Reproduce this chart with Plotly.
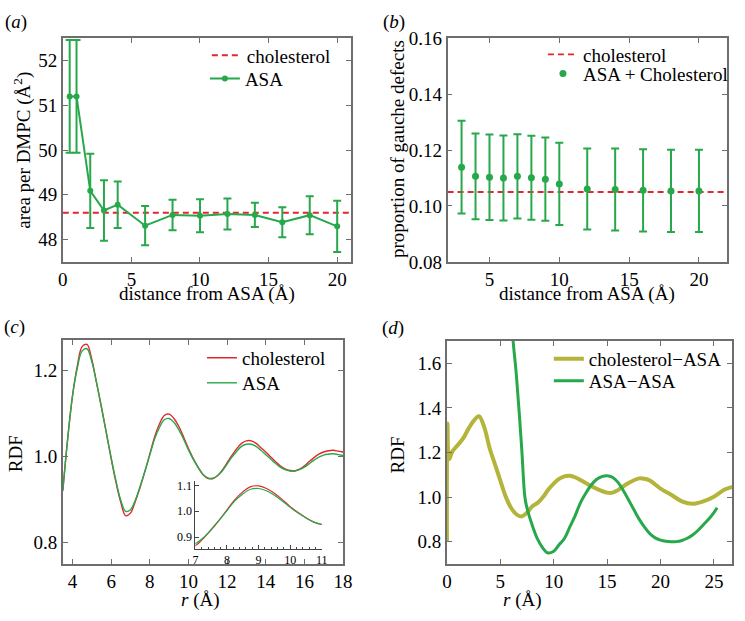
import plotly.graph_objects as go

W, H = 745, 621
FONT = "Liberation Serif, Times New Roman, DejaVu Serif, serif"
GREEN = "#27a84a"
RED = "#e3262c"
OLIVE = "#b4b43a"
FRAME = "#6e6e6e"

# ---------------- data ----------------
# (a) area per DMPC
a_x = [0.5, 1, 2, 3, 4, 6, 8, 10, 12, 14, 16, 18, 20]
a_y = [51.2, 51.2, 49.09, 48.65, 48.78, 48.31, 48.55, 48.53, 48.57, 48.55, 48.385, 48.545, 48.295]
a_err = [1.26, 1.26, 0.83, 0.675, 0.52, 0.44, 0.34, 0.37, 0.345, 0.27, 0.335, 0.425, 0.575]
a_chol = 48.6
a_xrange = [0, 21]

# (b) proportion of gauche defects
b_x = [3, 4, 5, 6, 7, 8, 9, 10, 12, 14, 16, 18, 20]
b_y = [0.1139, 0.1106, 0.1103, 0.1100, 0.1106, 0.1101, 0.1096, 0.1079, 0.1061, 0.1059, 0.1056, 0.1054, 0.1054]
b_err = [0.0166, 0.0153, 0.0153, 0.0152, 0.0151, 0.0150, 0.0149, 0.0147, 0.0145, 0.0147, 0.0147, 0.0147, 0.0147]
b_chol = 0.105
b_xrange = [2, 22]

# (c) RDF
c_r = [3.5, 3.75, 4.0, 4.25, 4.5, 4.75, 5.0, 5.25, 5.5, 5.75, 6.0, 6.25, 6.5, 6.75, 7.0, 7.25,
       7.5, 7.75, 8.0, 8.25, 8.5, 8.75, 9.0, 9.25, 9.5, 9.75, 10.0, 10.25, 10.5, 10.75, 11.0,
       11.25, 11.5, 11.75, 12.0, 12.25, 12.5, 12.75, 13.0, 13.25, 13.5, 13.75, 14.0, 14.25,
       14.5, 14.75, 15.0, 15.25, 15.5, 15.75, 16.0, 16.25, 16.5, 16.75, 17.0, 17.25, 17.5,
       17.75, 18.0]
c_chol = [0.92, 1.04, 1.14, 1.21, 1.255, 1.26, 1.225, 1.17, 1.115, 1.055, 0.995, 0.94, 0.893,
          0.862, 0.868, 0.895, 0.928, 0.965, 1.005, 1.045, 1.075, 1.095, 1.098, 1.088, 1.07,
          1.045, 1.018, 0.995, 0.975, 0.958, 0.949, 0.948, 0.955, 0.968, 0.985, 1.002, 1.018,
          1.03, 1.036, 1.036, 1.03, 1.02, 1.01, 0.999, 0.988, 0.978, 0.971, 0.967, 0.966, 0.97,
          0.978, 0.988, 0.997, 1.005, 1.01, 1.013, 1.014, 1.012, 1.01]
c_asa = [0.92, 1.04, 1.14, 1.205, 1.245, 1.25, 1.22, 1.17, 1.113, 1.055, 0.997, 0.943, 0.898,
         0.872, 0.876, 0.898, 0.93, 0.966, 1.003, 1.04, 1.067, 1.085, 1.088, 1.079, 1.062,
         1.04, 1.015, 0.993, 0.974, 0.958, 0.95, 0.949, 0.955, 0.966, 0.982, 0.998, 1.012,
         1.023, 1.028, 1.028, 1.023, 1.014, 1.004, 0.994, 0.984, 0.975, 0.969, 0.966, 0.966,
         0.969, 0.975, 0.983, 0.991, 0.998, 1.003, 1.005, 1.006, 1.004, 1.002]

# (d) RDF
d_r_chol = [0.0, 0.05, 0.2, 0.5, 1.0, 1.5, 2.0, 2.5, 3.0, 3.5, 4.0, 4.5, 5.0, 5.5, 6.0, 6.5,
            7.0, 7.5, 8.0, 8.5, 9.0, 9.5, 10.0, 10.5, 11.0, 11.5, 12.0, 13.0, 14.0, 15.0, 15.5,
            16.0, 17.0, 18.0, 18.5, 19.0, 20.0, 21.0, 22.0, 23.0, 24.0, 25.0, 26.0, 26.7]
d_chol = [0.8, 1.33, 1.17, 1.204, 1.233, 1.262, 1.305, 1.342, 1.363, 1.313, 1.219, 1.147,
          1.074, 1.003, 0.952, 0.923, 0.913, 0.93, 0.959, 0.974, 1.0, 1.034, 1.06, 1.082,
          1.093, 1.096, 1.089, 1.063, 1.038, 1.02, 1.02, 1.031, 1.063, 1.084, 1.082, 1.074,
          1.038, 1.01, 0.981, 0.97, 0.981, 1.002, 1.034, 1.046]
d_r_asa = [6.0, 6.2, 6.5, 7.0, 7.3, 7.5, 8.0, 8.5, 9.0, 9.4, 10.0, 10.5, 11.0, 11.5, 12.0,
           12.5, 13.0, 13.5, 14.0, 14.5, 15.0, 15.5, 16.0, 16.5, 17.0, 17.5, 18.0, 18.5,
           19.0, 19.5, 20.0, 20.5, 21.0, 21.5, 22.0, 22.5, 23.0, 23.5, 24.0, 24.5, 25.0, 25.3]
d_asa = [1.85, 1.70, 1.55, 1.22, 1.0, 0.95, 0.872, 0.81, 0.77, 0.75, 0.757, 0.786, 0.814,
         0.865, 0.916, 0.974, 1.017, 1.053, 1.079, 1.092, 1.096, 1.089, 1.067, 1.031, 0.988,
         0.944, 0.901, 0.865, 0.836, 0.817, 0.807, 0.802, 0.80, 0.80, 0.805, 0.815, 0.83,
         0.85, 0.875, 0.90, 0.93, 0.952]


def px(x):
    return x / W


def py(y):
    return 1 - y / H


fig = go.Figure()

# (a)
fig.add_trace(go.Scatter(x=a_xrange, y=[a_chol, a_chol], mode="lines", name="cholesterol",
                         line=dict(color=RED, width=2, dash="6px,4px"),
                         xaxis="x", yaxis="y", legend="legend"))
fig.add_trace(go.Scatter(x=a_x, y=a_y, mode="lines+markers", name="ASA",
                         line=dict(color=GREEN, width=2), marker=dict(size=6, color=GREEN),
                         error_y=dict(type="data", array=a_err, color=GREEN, thickness=2, width=4),
                         xaxis="x", yaxis="y", legend="legend2"))
# (b)
fig.add_trace(go.Scatter(x=b_xrange, y=[b_chol, b_chol], mode="lines", name="cholesterol",
                         line=dict(color=RED, width=1.8, dash="6px,4px"),
                         xaxis="x2", yaxis="y2", legend="legend3"))
fig.add_trace(go.Scatter(x=b_x, y=b_y, mode="markers", name="ASA + Cholesterol",
                         marker=dict(size=7, color=GREEN),
                         error_y=dict(type="data", array=b_err, color=GREEN, thickness=2, width=4),
                         xaxis="x2", yaxis="y2", legend="legend4"))
# (c)
fig.add_trace(go.Scatter(x=c_r, y=c_chol, mode="lines", name="cholesterol", line_shape="spline",
                         line=dict(color=RED, width=1.4), xaxis="x3", yaxis="y3", legend="legend5"))
fig.add_trace(go.Scatter(x=c_r, y=c_asa, mode="lines", name="ASA", line_shape="spline",
                         line=dict(color=GREEN, width=1.4), xaxis="x3", yaxis="y3", legend="legend6"))
# inset
fig.add_trace(go.Scatter(x=c_r, y=c_chol, mode="lines", line_shape="spline", showlegend=False,
                         line=dict(color=RED, width=1.2), xaxis="x5", yaxis="y5"))
fig.add_trace(go.Scatter(x=c_r, y=c_asa, mode="lines", line_shape="spline", showlegend=False,
                         line=dict(color=GREEN, width=1.2), xaxis="x5", yaxis="y5"))
# (d)
fig.add_trace(go.Scatter(x=d_r_chol, y=d_chol, mode="lines", name="cholesterol\u2212ASA",
                         line_shape="spline", line=dict(color=OLIVE, width=4),
                         xaxis="x4", yaxis="y4", legend="legend7"))
fig.add_trace(go.Scatter(x=d_r_asa, y=d_asa, mode="lines", name="ASA\u2212ASA",
                         line_shape="spline", line=dict(color=GREEN, width=3),
                         xaxis="x4", yaxis="y4", legend="legend8"))

TF = dict(family=FONT, size=19, color="black")


def ax(domain, rng, dtick, tick0=None, fmt=None, anchor=None):
    d = dict(domain=domain, range=rng, dtick=dtick, showline=True, linecolor=FRAME, linewidth=1.5,
             mirror="ticks", ticks="inside", ticklen=5, tickwidth=1.2, tickcolor=FRAME,
             showgrid=False, zeroline=False, tickfont=TF, anchor=anchor)
    if tick0 is not None:
        d["tick0"] = tick0
    if fmt:
        d["tickformat"] = fmt
    return d


layout = dict(
    width=W, height=H, margin=dict(l=0, r=0, t=0, b=0),
    paper_bgcolor="white", plot_bgcolor="rgba(0,0,0,0)",
    font=dict(family=FONT, size=19, color="black"),
    hovermode=False,
    xaxis=ax([px(59), px(353)], a_xrange, 5, anchor="y"),
    yaxis=ax([py(260.7), py(29.3)], [47.5, 52.5], 1, anchor="x"),
    xaxis2=ax([px(451.7), px(736.7)], b_xrange, 5, tick0=0, anchor="y2"),
    yaxis2=ax([py(260.7), py(29.3)], [0.08, 0.16], 0.02, fmt=".2f", anchor="x2"),
    xaxis3=ax([px(59), px(345)], [3.5, 18], 2, tick0=0, anchor="y3"),
    yaxis3=ax([py(573.3), py(341.7)], [0.75, 1.27], 0.2, tick0=0, fmt=".1f", anchor="x3"),
    xaxis4=ax([px(451), px(742)], [0, 26.7], 5, anchor="y4"),
    yaxis4=ax([py(573.3), py(342.7)], [0.7, 1.7], 0.2, tick0=0, fmt=".1f", anchor="x4"),
    xaxis5=dict(domain=[px(194.3), px(323.3)], range=[7, 11], dtick=1, anchor="y5",
                showline=True, linecolor="#444", linewidth=1, ticks="inside", ticklen=4,
                tickcolor="#444", showgrid=False, zeroline=False,
                tickfont=dict(family=FONT, size=12, color="black"),
                minor=dict(dtick=0.2, ticks="inside", ticklen=2, tickcolor="#444")),
    yaxis5=dict(domain=[py(557.7), py(488)], range=[0.855, 1.115], dtick=0.1, tick0=0,
                tickformat=".1f", anchor="x5", showline=True, linecolor="#444", linewidth=1,
                ticks="inside", ticklen=4, tickcolor="#444", showgrid=False, zeroline=False,
                tickfont=dict(family=FONT, size=12, color="black")),
)

LEG = dict(bgcolor="rgba(0,0,0,0)", borderwidth=0, font=dict(family=FONT, size=19, color="black"),
           xanchor="left", yanchor="middle", itemwidth=30)
leg_pos = {
    "legend": (206, 47), "legend2": (204, 71),
    "legend3": (549, 46), "legend4": (549, 66),
    "legend5": (201, 360), "legend6": (201, 386),
    "legend7": (555, 361), "legend8": (555, 384),
}
for k, (lx, ly) in leg_pos.items():
    layout[k] = dict(LEG, x=px(lx), y=py(ly))

ann = []


def note(text, x, y, angle=0, size=19):
    ann.append(dict(text=text, x=px(x), y=py(y), xref="paper", yref="paper", showarrow=False,
                    textangle=angle, font=dict(family=FONT, size=size, color="black"),
                    xanchor="center", yanchor="middle"))


note("(<i>a</i>)", 11, 12)
note("(<i>b</i>)", 397, 12)
note("(<i>c</i>)", 10, 328)
note("(<i>d</i>)", 396, 329)
note("area per DMPC (Å<sup>2</sup>)", 17, 145, -90)
note("distance from ASA (Å)", 206, 294)
note("proportion of gauche defects", 400, 144, -90)
note("distance from ASA (Å)", 594, 294)
note("RDF", 11, 459, -90)
note("<i>r</i> (Å)", 200, 611)
note("RDF", 400, 460, -90)
note("<i>r</i> (Å)", 528, 611)
layout["annotations"] = ann

fig.update_layout(**layout)
fig.write_html("out.html", config={"displayModeBar": False},
               post_script="document.body.style.margin='0px';document.body.style.overflow='hidden';")
